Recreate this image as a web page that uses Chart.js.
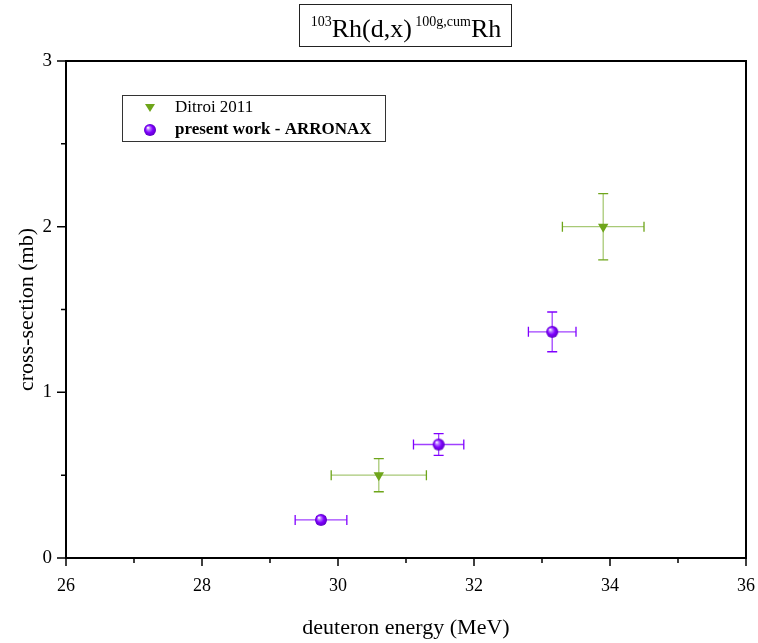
<!DOCTYPE html>
<html>
<head>
<meta charset="utf-8">
<title>103Rh(d,x)100g,cumRh</title>
<script src="https://cdn.jsdelivr.net/npm/chart.js@4.4.1/dist/chart.umd.min.js"></script>
<style>
  html, body { margin: 0; padding: 0; background: #fff; }
</style>
</head>
<body>
<canvas id="chart" width="758" height="643"></canvas>
<script>
// data
const ditroiEnergy = [30.6, 33.9];
const ditroiEnergyErr = [0.7, 0.6];
const ditroiXs = [0.5, 2.0];
const ditroiXsErr = [0.1, 0.2];

const arronaxEnergy = [29.75, 31.48, 33.15];
const arronaxEnergyErr = [0.38, 0.37, 0.35];
const arronaxXs = [0.23, 0.685, 1.365];
const arronaxXsErr = [0.02, 0.066, 0.12];

const xMajorTicks = [26, 28, 30, 32, 34, 36];
const xMinorTicks = [27, 29, 31, 33, 35];
const yMajorTicks = [0, 1, 2, 3];
const yMinorTicks = [0.5, 1.5, 2.5];

const green = "#6ea51a";
const purple = "#8000ff";
const serif = "'Liberation Serif', 'DejaVu Serif', serif";

function toPoints(xs, ys) {
  return xs.map((x, i) => ({ x: x, y: ys[i] }));
}

// little shaded ball for the ARRONAX markers
function sphere(r) {
  const c = document.createElement("canvas");
  c.width = c.height = 2 * r + 2;
  const g = c.getContext("2d");
  const m = r + 1;
  const grad = g.createRadialGradient(m - r * 0.35, m - r * 0.4, 0.3, m, m, r);
  grad.addColorStop(0, "#ffffff");
  grad.addColorStop(0.25, "#b77bff");
  grad.addColorStop(0.6, purple);
  grad.addColorStop(1, "#5b00c4");
  g.fillStyle = grad;
  g.beginPath();
  g.arc(m, m, r, 0, Math.PI * 2);
  g.fill();
  return c;
}
const ball = sphere(6);

const errorBars = {
  id: "errorBars",
  beforeDatasetsDraw(chart) {
    const ctx = chart.ctx;
    const xs = chart.scales.x, ys = chart.scales.y;
    chart.data.datasets.forEach((ds) => {
      ctx.save();
      ctx.lineWidth = 1.3;
      ds.data.forEach((p, i) => {
        const ex = ds.errX[i], ey = ds.errY[i];
        const px = xs.getPixelForValue(p.x), py = ys.getPixelForValue(p.y);
        const x0 = xs.getPixelForValue(p.x - ex), x1 = xs.getPixelForValue(p.x + ex);
        const y0 = ys.getPixelForValue(p.y - ey), y1 = ys.getPixelForValue(p.y + ey);
        ctx.strokeStyle = ds.barColor;
        ctx.beginPath();
        ctx.moveTo(x0, py); ctx.lineTo(x1, py);
        ctx.moveTo(px, y0); ctx.lineTo(px, y1);
        ctx.stroke();
        ctx.strokeStyle = ds.capColor;
        ctx.beginPath();
        ctx.moveTo(x0, py - 5); ctx.lineTo(x0, py + 5);
        ctx.moveTo(x1, py - 5); ctx.lineTo(x1, py + 5);
        ctx.moveTo(px - 5, y0); ctx.lineTo(px + 5, y0);
        ctx.moveTo(px - 5, y1); ctx.lineTo(px + 5, y1);
        ctx.stroke();
      });
      ctx.restore();
    });
  }
};

const frame = {
  id: "frame",
  afterDraw(chart) {
    const ctx = chart.ctx;
    const a = chart.chartArea;
    const xs = chart.scales.x, ys = chart.scales.y;
    ctx.save();
    ctx.strokeStyle = "#000";
    ctx.lineWidth = 2;
    ctx.strokeRect(a.left, a.top, a.right - a.left, a.bottom - a.top);
    ctx.lineWidth = 1.5;
    ctx.beginPath();
    xMajorTicks.forEach(v => { const x = xs.getPixelForValue(v); ctx.moveTo(x, a.bottom); ctx.lineTo(x, a.bottom + 8); });
    xMinorTicks.forEach(v => { const x = xs.getPixelForValue(v); ctx.moveTo(x, a.bottom); ctx.lineTo(x, a.bottom + 5); });
    yMajorTicks.forEach(v => { const y = ys.getPixelForValue(v); ctx.moveTo(a.left, y); ctx.lineTo(a.left - 9, y); });
    yMinorTicks.forEach(v => { const y = ys.getPixelForValue(v); ctx.moveTo(a.left, y); ctx.lineTo(a.left - 5, y); });
    ctx.stroke();

    // title box
    ctx.lineWidth = 1;
    ctx.strokeStyle = "#222";
    ctx.strokeRect(299.5, 4.5, 212, 42);
    const parts = [
      ["103", 14, -11], ["Rh(d,x)", 26, 0], [" 100g,cum", 14, -11], ["Rh", 26, 0]
    ];
    let total = 0;
    parts.forEach(p => { ctx.font = p[1] + "px " + serif; total += ctx.measureText(p[0]).width; });
    let tx = 406 - total / 2;
    ctx.fillStyle = "#000";
    ctx.textBaseline = "alphabetic";
    parts.forEach(p => {
      ctx.font = p[1] + "px " + serif;
      ctx.fillText(p[0], tx, 37 + p[2]);
      tx += ctx.measureText(p[0]).width;
    });

    // legend
    ctx.strokeStyle = "#333";
    ctx.strokeRect(122.5, 95.5, 263, 46);
    ctx.fillStyle = green;
    ctx.beginPath();
    ctx.moveTo(145, 104); ctx.lineTo(155, 104); ctx.lineTo(150, 112); ctx.closePath();
    ctx.fill();
    ctx.drawImage(ball, 150 - 7, 130 - 7);
    ctx.fillStyle = "#000";
    ctx.textBaseline = "middle";
    ctx.font = "17px " + serif;
    ctx.fillText(chart.data.datasets[0].label, 175, 108);
    ctx.font = "bold 17px " + serif;
    ctx.fillText(chart.data.datasets[1].label, 175, 130);
    ctx.restore();
  }
};

new Chart(document.getElementById("chart"), {
  type: "scatter",
  data: {
    datasets: [
      {
        label: "Ditroi 2011",
        data: toPoints(ditroiEnergy, ditroiXs),
        errX: ditroiEnergyErr,
        errY: ditroiXsErr,
        barColor: "rgba(110,165,26,0.6)",
        capColor: green,
        pointStyle: "triangle",
        rotation: 180,
        pointRadius: 6,
        backgroundColor: green,
        borderColor: green,
        borderWidth: 0
      },
      {
        label: "present work - ARRONAX",
        data: toPoints(arronaxEnergy, arronaxXs),
        errX: arronaxEnergyErr,
        errY: arronaxXsErr,
        barColor: "rgba(128,0,255,0.75)",
        capColor: purple,
        pointStyle: ball,
        pointRadius: 6,
        backgroundColor: purple,
        borderColor: purple
      }
    ]
  },
  options: {
    responsive: false,
    animation: false,
    devicePixelRatio: 1,
    layout: { padding: { top: 61, right: 12, left: 0, bottom: 0 } },
    plugins: { legend: { display: false }, tooltip: { enabled: false } },
    scales: {
      x: {
        type: "linear",
        min: 26,
        max: 36,
        afterFit(s) { s.height = 85; s.paddingLeft = 0; s.paddingRight = 0; },
        grid: { display: true, drawOnChartArea: false, drawTicks: false, color: "transparent" },
        border: { display: false },
        ticks: { stepSize: 2, padding: 17, color: "#000", font: { family: serif, size: 18 } },
        title: { display: true, text: "deuteron energy (MeV)", color: "#000", font: { family: serif, size: 22 }, padding: { top: 0, bottom: 2 } }
      },
      y: {
        type: "linear",
        min: 0,
        max: 3,
        afterFit(s) { s.width = 66; s.paddingTop = 0; s.paddingBottom = 0; },
        grid: { display: true, drawOnChartArea: false, drawTicks: false, color: "transparent" },
        border: { display: false },
        ticks: { stepSize: 1, padding: 14, color: "#000", font: { family: serif, size: 19 } },
        title: { display: true, text: "cross-section (mb)", color: "#000", font: { family: serif, size: 22 }, padding: { top: 14, bottom: 0 } }
      }
    }
  },
  plugins: [errorBars, frame]
});
</script>
</body>
</html>
